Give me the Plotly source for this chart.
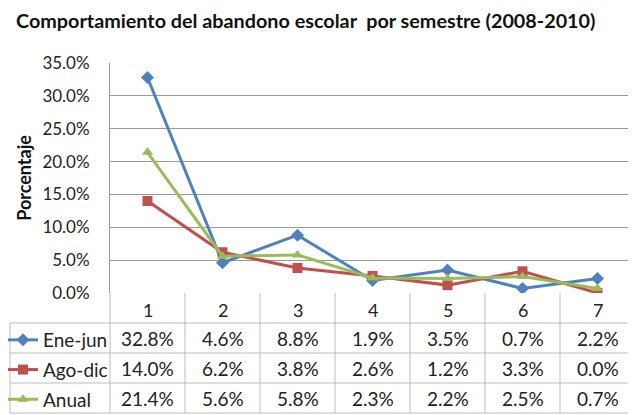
import plotly.graph_objects as go

semestres = [1, 2, 3, 4, 5, 6, 7]
ene_jun = [32.8, 4.6, 8.8, 1.9, 3.5, 0.7, 2.2]
ago_dic = [14.0, 6.2, 3.8, 2.6, 1.2, 3.3, 0.0]
anual = [21.4, 5.6, 5.8, 2.3, 2.2, 2.5, 0.7]
series_names = ["Ene-jun", "Ago-dic", "Anual"]

colors = ["#4F81BD", "#C0504D", "#9BBB59"]
symbols = ["diamond", "square", "triangle-up"]
FONT = "Lato"

# the page body adds an 8px margin, so the figure is drawn that much smaller
OFF = 8
W, H = 636 - OFF, 415 - OFF
# layout measured on the reference (page pixels)
LEFT, RIGHT, TOP, BOTTOM = 110, 635, 63, 293
ROW_H = 30
TABLE_LEFT = 10


def py(ypx):
    # page pixel row -> paper y
    return (BOTTOM - ypx) / (BOTTOM - TOP)


def px(xpx):
    # page pixel column -> paper x
    return (xpx - LEFT) / (RIGHT - LEFT)


fig = go.Figure()
for i, (name, vals) in enumerate(zip(series_names, [ene_jun, ago_dic, anual])):
    fig.add_trace(
        go.Scatter(
            x=semestres,
            y=vals,
            name=name,
            legendgroup=name,
            mode="lines+markers",
            line=dict(color=colors[i], width=3),
            marker=dict(symbol=symbols[i], size=10, color=colors[i]),
        )
    )

# data table below the plot
grid = "#BDBDBD"
shapes = []
ncat = len(semestres)
col_w = (RIGHT - LEFT) / ncat
# column separators
for k in range(ncat + 1):
    xk = px(LEFT + k * col_w)
    shapes.append(dict(type="line", xref="paper", yref="paper", x0=xk, x1=xk,
                       y0=py(BOTTOM + 4 * ROW_H), y1=py(BOTTOM),
                       line=dict(color=grid, width=1)))
# left border of label column
shapes.append(dict(type="line", xref="paper", yref="paper", x0=px(TABLE_LEFT), x1=px(TABLE_LEFT),
                   y0=py(BOTTOM + 4 * ROW_H), y1=py(BOTTOM + ROW_H),
                   line=dict(color=grid, width=1)))
# horizontal rules
for r in range(1, 5):
    yr = py(BOTTOM + r * ROW_H)
    shapes.append(dict(type="line", xref="paper", yref="paper", x0=px(TABLE_LEFT), x1=1,
                       y0=yr, y1=yr, line=dict(color=grid, width=1)))

annotations = []
for s in semestres:
    annotations.append(dict(x=s, y=py(BOTTOM + ROW_H / 2 + 2), xref="x", yref="paper",
                            xanchor="center", yanchor="middle",
                            text=str(s), showarrow=False,
                            font=dict(family=FONT, size=18, color="#222")))
for r, vals in enumerate([ene_jun, ago_dic, anual]):
    for s, v in zip(semestres, vals):
        annotations.append(dict(x=s, y=py(BOTTOM + (r + 1.5) * ROW_H), xref="x", yref="paper",
                                xanchor="center", yanchor="middle",
                                text="%.1f%%" % v, showarrow=False,
                                font=dict(family=FONT, size=19, color="#222")))

fig.update_layout(
    width=W,
    height=H,
    margin=dict(l=LEFT - OFF, r=636 - RIGHT, t=TOP - OFF, b=415 - BOTTOM, autoexpand=False),
    plot_bgcolor="white",
    paper_bgcolor="white",
    title=dict(
        text="Comportamiento del abandono escolar\u00a0 por semestre (2008-2010)",
        x=(16 - OFF) / W, xanchor="left", y=1 - (21 - OFF) / H, yanchor="middle",
        font=dict(family=FONT, size=19.8, color="#111", weight="bold"),
    ),
    xaxis=dict(range=[0.5, 7.5], showticklabels=False, showgrid=False,
               zeroline=False, showline=False),
    yaxis=dict(range=[0, 35], dtick=5, tickformat=".1f", ticksuffix="%",
               showgrid=True, gridcolor="#999", gridwidth=1, zeroline=False,
               showline=True, linecolor="#999", linewidth=1,
               ticklabelstandoff=16,
               tickfont=dict(family=FONT, size=17, color="#222"),
               title=dict(text="<b>Porcentaje</b>", standoff=6,
                          font=dict(family=FONT, size=18, color="#111"))),
    legend=dict(x=px(3), xanchor="left", y=py(BOTTOM + ROW_H - 2), yanchor="top",
                font=dict(family=FONT, size=19, color="#222"),
                tracegroupgap=2, itemwidth=30, bgcolor="rgba(0,0,0,0)",
                borderwidth=0),
    shapes=shapes,
    annotations=annotations,
)

fig.write_html("out.html")
